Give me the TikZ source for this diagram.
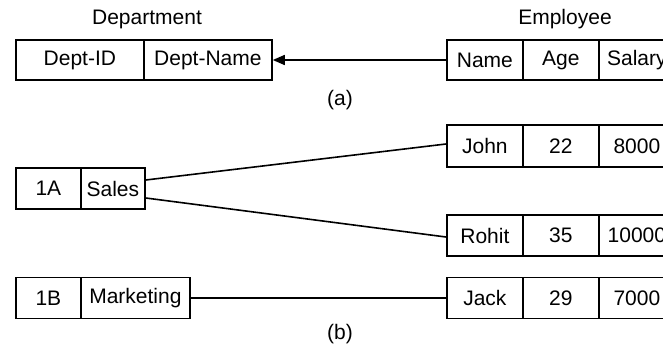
\documentclass[tikz,border=0pt]{standalone}
\usepackage{fontspec}
\setmainfont{Liberation Sans}
\usetikzlibrary{arrows.meta}
\begin{document}
\begin{tikzpicture}[x=1pt,y=1pt,
  font=\fontsize{21}{25}\selectfont,
  cell/.style={draw, line width=1.8pt, inner sep=0pt, anchor=west},
  link/.style={line width=1.6pt},
  lbl/.style={inner sep=0pt}]
\useasboundingbox (0,0) rectangle (663,346);
\clip (0,0) rectangle (663,346);
% (a) schema
\node[lbl] (deptlbl) at (147,327) {Department};
\node[lbl] (emplbl) at (565,327) {Employee};
\node[cell, minimum width=128pt, minimum height=40pt] (did) at (15,286) {Dept-ID};
\node[cell, minimum width=128pt, minimum height=40pt] (dname) at (143,286) {Dept-Name};
\node[cell, minimum width=76pt, minimum height=40pt] (ename) at (446,286) {Name};
\node[cell, minimum width=76pt, minimum height=40pt] (eage) at (522,286) {Age};
\node[cell, minimum width=76pt, minimum height=40pt] (esal) at (598,286) {Salary};
\draw[link, -{Triangle[length=12pt,width=10pt]}] (ename.west) -- (dname.east);
\node[lbl] (la) at (340,246) {(a)};
% (b) instances
\node[cell, minimum width=65pt, minimum height=41pt] (d1id) at (15,157.5) {1A};
\node[cell, minimum width=64pt, minimum height=41pt] (d1n) at (80,157.5) {Sales};
\node[cell, minimum width=65pt, minimum height=41pt] (d2id) at (15,48) {1B};
\node[cell, minimum width=109pt, minimum height=41pt] (d2n) at (80,48) {Marketing};
\node[cell, minimum width=76pt, minimum height=42pt] (jn) at (446,200) {John};
\node[cell, minimum width=76pt, minimum height=42pt] (ja) at (522,200) {22};
\node[cell, minimum width=76pt, minimum height=42pt] (js) at (598,200) {8000};
\node[cell, minimum width=76pt, minimum height=41pt] (rn) at (446,110.5) {Rohit};
\node[cell, minimum width=76pt, minimum height=41pt] (ra) at (522,110.5) {35};
\node[cell, minimum width=76pt, minimum height=41pt] (rs) at (598,110.5) {10000};
\node[cell, minimum width=76pt, minimum height=41pt] (kn) at (446,48) {Jack};
\node[cell, minimum width=76pt, minimum height=41pt] (ka) at (522,48) {29};
\node[cell, minimum width=76pt, minimum height=41pt] (ks) at (598,48) {7000};
\draw[link] ([yshift=8.5pt]d1n.east) -- ([yshift=2pt]jn.west);
\draw[link] ([yshift=-9.5pt]d1n.east) -- ([yshift=-1.5pt]rn.west);
\draw[link] (d2n.east) -- (kn.west);
\node[lbl] (lb) at (340,12) {(b)};
\end{tikzpicture}
\end{document}
